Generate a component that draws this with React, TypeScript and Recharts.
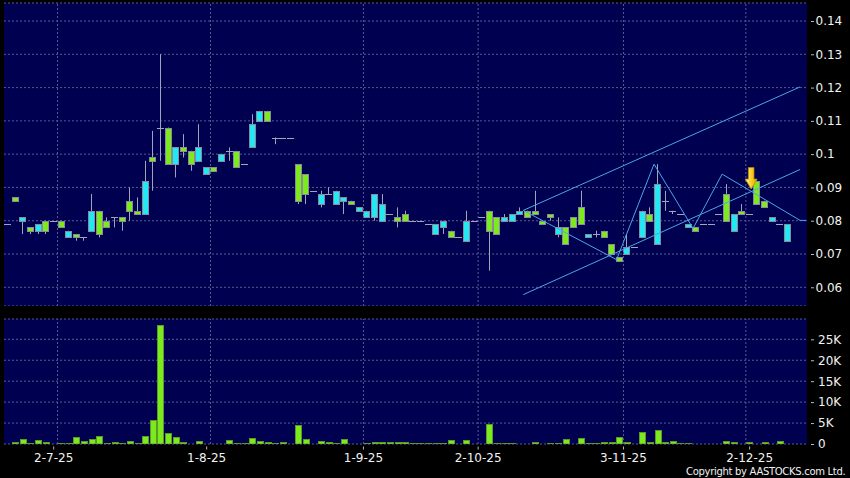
import React from 'react';
import { ComposedChart, Bar, XAxis, YAxis, CartesianGrid, ReferenceLine, ReferenceDot } from 'recharts';

// ---- data (index = trading-day slot) ----
const opens = [
  0.079, 0.087, 0.080, 0.078, 0.077, 0.080, 0.080, 0.080, 0.075, 0.076,
  0.075, 0.077, 0.083, 0.080, 0.081, 0.081, 0.086, 0.083, 0.082, 0.099,
  0.108, 0.108, 0.097, 0.102, 0.101, 0.098, 0.094, 0.096, 0.098, 0.101,
  0.101, 0.097, 0.102, 0.110, 0.113, 0.105, 0.105, 0.105, 0.097, 0.094,
  0.089, 0.085, 0.088, 0.085, 0.086, 0.086, 0.083, 0.081, 0.081, 0.080,
  0.082, 0.081, 0.082, 0.080, 0.080, 0.079, 0.076, 0.078, 0.077, 0.075,
  0.074, 0.080, 0.081, 0.083, 0.081, 0.080, 0.080, 0.082, 0.083, 0.083,
  0.080, 0.082, 0.076, 0.078, 0.081, 0.084, 0.075, 0.076, 0.077, 0.073,
  0.069, 0.070, 0.072, 0.075, 0.082, 0.073, 0.086, 0.083, 0.082, 0.078,
  0.078, 0.079, 0.079, 0.082, 0.088, 0.077, 0.083, 0.082, 0.092, 0.086,
  0.080, 0.079, 0.074,
];
const highs = [
  0.079, 0.087, 0.081, 0.078, 0.079, 0.080, 0.080, 0.080, 0.077, 0.076,
  0.075, 0.088, 0.083, 0.081, 0.081, 0.081, 0.090, 0.087, 0.098, 0.107,
  0.130, 0.108, 0.102, 0.106, 0.101, 0.109, 0.096, 0.096, 0.100, 0.102,
  0.101, 0.097, 0.112, 0.113, 0.113, 0.105, 0.105, 0.105, 0.097, 0.094,
  0.089, 0.089, 0.090, 0.089, 0.087, 0.086, 0.084, 0.083, 0.088, 0.088,
  0.082, 0.084, 0.083, 0.080, 0.080, 0.079, 0.079, 0.080, 0.077, 0.075,
  0.083, 0.080, 0.081, 0.083, 0.081, 0.082, 0.082, 0.084, 0.083, 0.089,
  0.080, 0.082, 0.081, 0.078, 0.081, 0.089, 0.076, 0.077, 0.077, 0.073,
  0.069, 0.076, 0.072, 0.083, 0.084, 0.097, 0.089, 0.083, 0.082, 0.079,
  0.078, 0.079, 0.079, 0.082, 0.091, 0.082, 0.085, 0.082, 0.092, 0.086,
  0.081, 0.079, 0.079,
];
const lows = [
  0.079, 0.086, 0.076, 0.076, 0.076, 0.076, 0.080, 0.078, 0.075, 0.074,
  0.074, 0.077, 0.075, 0.078, 0.078, 0.077, 0.080, 0.082, 0.082, 0.089,
  0.098, 0.097, 0.093, 0.099, 0.095, 0.098, 0.094, 0.095, 0.098, 0.098,
  0.096, 0.097, 0.102, 0.110, 0.110, 0.103, 0.105, 0.105, 0.085, 0.085,
  0.089, 0.084, 0.088, 0.085, 0.082, 0.085, 0.083, 0.081, 0.080, 0.080,
  0.082, 0.078, 0.080, 0.080, 0.080, 0.079, 0.076, 0.076, 0.075, 0.075,
  0.074, 0.080, 0.081, 0.065, 0.076, 0.080, 0.080, 0.082, 0.081, 0.082,
  0.079, 0.080, 0.075, 0.073, 0.078, 0.079, 0.075, 0.075, 0.075, 0.070,
  0.068, 0.070, 0.072, 0.075, 0.080, 0.073, 0.083, 0.082, 0.082, 0.078,
  0.077, 0.079, 0.079, 0.082, 0.080, 0.077, 0.082, 0.082, 0.085, 0.084,
  0.080, 0.079, 0.074,
];
const closes = [
  0.079, 0.086, 0.081, 0.077, 0.079, 0.077, 0.080, 0.078, 0.077, 0.075,
  0.075, 0.083, 0.076, 0.078, 0.081, 0.080, 0.083, 0.082, 0.092, 0.098,
  0.108, 0.097, 0.102, 0.101, 0.097, 0.102, 0.096, 0.095, 0.100, 0.101,
  0.096, 0.097, 0.109, 0.113, 0.110, 0.105, 0.105, 0.105, 0.086, 0.088,
  0.089, 0.088, 0.088, 0.089, 0.087, 0.085, 0.084, 0.083, 0.088, 0.085,
  0.082, 0.080, 0.080, 0.080, 0.080, 0.079, 0.079, 0.080, 0.075, 0.075,
  0.080, 0.080, 0.081, 0.077, 0.076, 0.081, 0.082, 0.083, 0.081, 0.082,
  0.079, 0.081, 0.078, 0.073, 0.078, 0.079, 0.076, 0.076, 0.075, 0.070,
  0.068, 0.072, 0.072, 0.083, 0.080, 0.091, 0.086, 0.083, 0.082, 0.079,
  0.077, 0.079, 0.079, 0.082, 0.080, 0.082, 0.082, 0.082, 0.085, 0.084,
  0.081, 0.079, 0.079,
];
const volumes = [
  0, 560, 1275, 320, 1036, 400, 0, 320, 320, 1750,
  720, 1200, 2000, 320, 480, 240, 800, 320, 2000, 5800,
  28300, 2630, 1600, 480, 0, 800, 0, 0, 0, 1040,
  150, 320, 1500, 720, 480, 320, 480, 0, 4460, 1275,
  0, 640, 480, 150, 1275, 0, 0, 240, 480, 480,
  480, 480, 480, 320, 120, 120, 120, 160, 1036, 0,
  960, 0, 0, 4860, 320, 240, 240, 0, 0, 480,
  0, 240, 160, 1115, 0, 1515, 160, 240, 480, 480,
  1750, 560, 0, 2900, 450, 3400, 550, 620, 350, 120,
  100, 100, 100, 100, 600, 400, 100, 520, 100, 480,
  100, 620, 100, 0, 0,
];

const priceTicks = [0.06, 0.07, 0.08, 0.09, 0.1, 0.11, 0.12, 0.13, 0.14];
const volumeTicks = [0, 5000, 10000, 15000, 20000, 25000];
const gridSlots = [6.5, 26.5, 46.5, 61.5, 80.5, 96.5];
const dateSlots = [6, 26, 46.5, 61.5, 80.5, 97];
const dateLabels = ['2-7-25', '1-8-25', '1-9-25', '2-10-25', '3-11-25', '2-12-25'];

const upperChannel = [{ i: 67.4, p: 0.0831 }, { i: 103.6, p: 0.1202 }];
const lowerChannel = [{ i: 67.4, p: 0.0578 }, { i: 103.6, p: 0.0954 }];
const zigzag = [
  { i: 67.4, p: 0.0831 }, { i: 79.6, p: 0.0683 }, { i: 84.5, p: 0.097 },
  { i: 89.6, p: 0.0777 }, { i: 93.4, p: 0.094 }, { i: 103.6, p: 0.0801 },
  { i: 104.45, p: 0.0801 },
];
const signalArrow = { i: 97.2, p: 0.0895 };

const priceData = opens.map((o, i) => ({ i, o, h: highs[i], l: lows[i], c: closes[i] }));
const volumeData = volumes.map((v, i) => ({ i, v }));

// ---- styles ----
const BG = '#000050';
const GRID = '#5a5a92';
const LINE = '#4aa6e6';
const GREEN = '#7dea1e';
const CYAN = '#22e8f4';
const WICK = '#a4a4b8';
const OUTLINE = '#8a8a9c';
const TEXT = '#f2f2f2';
const FONT = 'DejaVu Sans, Verdana, sans-serif';
const EPS = 0.00002;
const X_DOMAIN: [number, number] = [-0.5, 104.5];

function Candle(props: any) {
  const { x, y, width, height, payload } = props;
  if (!payload || x == null || y == null || payload.h == null) return null;
  const hi = payload.h + EPS;
  const lo = payload.l - EPS;
  const top = Math.min(y, y + height);
  const bot = Math.max(y, y + height);
  const k = (bot - top) / (hi - lo);
  const py = (p: number) => top + (hi - p) * k;
  const cx = x + width / 2;
  const bx = Math.round(cx - 3.5);
  const wx = bx + 3.5;
  const { o, c, h, l } = payload;
  const elems: any[] = [];
  if (h > l) {
    elems.push(<line key="w" x1={wx} x2={wx} y1={py(h)} y2={py(l)} stroke={WICK} strokeWidth={1} />);
  }
  if (o === c) {
    const yy = Math.round(py(c)) + 0.5;
    elems.push(<line key="d" x1={bx} x2={bx + 7} y1={yy} y2={yy} stroke={WICK} strokeWidth={1} />);
  } else {
    const ty = Math.round(py(Math.max(o, c))) + 0.5;
    const by = Math.round(py(Math.min(o, c))) + 0.5;
    elems.push(
      <rect key="b" x={bx + 0.5} y={ty} width={6} height={Math.max(by - ty, 1)}
        fill={c > o ? CYAN : GREEN} stroke={OUTLINE} strokeWidth={1} />
    );
  }
  return <g>{elems}</g>;
}

function VolBar(props: any) {
  const { x, y, width, height } = props;
  if (!height || height <= 0) return null;
  const cx = x + width / 2;
  const bx = Math.round(cx - 3.5);
  return <rect x={bx + 0.5} y={Math.round(y) + 0.5} width={6} height={Math.max(Math.round(height) - 0.5, 0.5)}
    fill={GREEN} stroke="#5b9a2a" strokeWidth={1} />;
}

function PriceTick(props: any) {
  const { x, y, payload } = props;
  const label = String(Number(Number(payload.value).toFixed(2)));
  return (
    <g>
      <line x1={x + 4} x2={x + 7} y1={y + 0.5} y2={y + 0.5} stroke="#b8b8c8" />
      <text x={x + 8.5} y={y} dy="0.36em" fill={TEXT} fontSize={12} fontFamily={FONT} textAnchor="start">{label}</text>
    </g>
  );
}

function VolTick(props: any) {
  const { x, y, payload } = props;
  const v = Number(payload.value);
  const label = v === 0 ? '0' : `${v / 1000}K`;
  return (
    <g>
      <line x1={x + 4} x2={x + 7} y1={y + 0.5} y2={y + 0.5} stroke="#b8b8c8" />
      <text x={x + 11} y={y} dy="0.36em" fill={TEXT} fontSize={12} fontFamily={FONT} textAnchor="start">{label}</text>
    </g>
  );
}

function DateTick(props: any) {
  const { x, y, payload } = props;
  const idx = dateSlots.indexOf(Number(payload.value));
  const label = idx >= 0 ? dateLabels[idx] : '';
  return (
    <g>
      <line x1={x} x2={x} y1={y + 2.5} y2={y + 5.5} stroke="#b8b8c8" />
      <text x={x} y={y + 17.7} fill={TEXT} fontSize={12} fontFamily={FONT} textAnchor="middle">{label}</text>
    </g>
  );
}

function Arrow(props: any) {
  const { cx, cy } = props;
  if (cx == null || cy == null) return null;
  const pts = [
    [cx - 2.8, cy - 21.5], [cx + 2.8, cy - 21.5], [cx + 2.8, cy - 10], [cx + 6, cy - 10],
    [cx, cy], [cx - 6, cy - 10], [cx - 2.8, cy - 10],
  ].map((p) => p.join(',')).join(' ');
  return (
    <g>
      <defs>
        <linearGradient id="arrowGrad" x1="0" y1="0" x2="1" y2="0">
          <stop offset="0%" stopColor="#fff0a0" />
          <stop offset="50%" stopColor="#f9cf2a" />
          <stop offset="100%" stopColor="#dfa000" />
        </linearGradient>
      </defs>
      <polygon points={pts} fill="url(#arrowGrad)" stroke="#c98a00" strokeWidth={0.7} />
    </g>
  );
}

const seg = (a: { i: number; p: number }, b: { i: number; p: number }) => [
  { x: a.i, y: a.p },
  { x: b.i, y: b.p },
];

export default function App() {
  return (
    <div style={{ position: 'absolute', left: 0, top: 0, width: 850, height: 478, background: '#000', overflow: 'hidden', fontFamily: FONT }}>
      <div style={{ position: 'absolute', left: 0, top: 0 }}>
        <ComposedChart width={850} height={306} data={priceData} margin={{ top: 3, right: 0, bottom: 0, left: 4 }}>
          <CartesianGrid vertical={false} stroke={GRID} strokeDasharray="2 2" fill={BG} fillOpacity={1} />
          <XAxis dataKey="i" type="number" domain={X_DOMAIN} hide allowDataOverflow />
          <YAxis orientation="right" width={43} domain={[0.05438, 0.14541]} ticks={priceTicks} interval={0}
            allowDataOverflow tickSize={0} tickMargin={0} axisLine={false} tickLine={false} tick={<PriceTick />} />
          {gridSlots.map((g) => (
            <ReferenceLine key={`g${g}`} x={g} stroke={GRID} strokeDasharray="2 2" />
          ))}
          <Bar dataKey={(d: any) => [d.l - EPS, d.h + EPS]} barSize={7} shape={<Candle />} isAnimationActive={false} />
          <ReferenceLine segment={seg(upperChannel[0], upperChannel[1])} stroke={LINE} strokeWidth={1} />
          <ReferenceLine segment={seg(lowerChannel[0], lowerChannel[1])} stroke={LINE} strokeWidth={1} />
          {zigzag.slice(1).map((pt, k) => (
            <ReferenceLine key={`z${k}`} segment={seg(zigzag[k], pt)} stroke={LINE} strokeWidth={1} />
          ))}
          <ReferenceDot x={signalArrow.i} y={signalArrow.p} shape={<Arrow />} />
        </ComposedChart>
      </div>
      <div style={{ position: 'absolute', left: 0, top: 306 }}>
        <ComposedChart width={850} height={172} data={volumeData} margin={{ top: 13, right: 0, bottom: 0, left: 4 }}>
          <CartesianGrid vertical={false} stroke={GRID} strokeDasharray="2 2" fill={BG} fillOpacity={1} />
          <XAxis dataKey="i" type="number" domain={X_DOMAIN} ticks={dateSlots} interval={0} height={34}
            allowDataOverflow tickSize={0} tickMargin={0} axisLine={false} tickLine={false} tick={<DateTick />} />
          <YAxis orientation="right" width={43} domain={[0, 29850]} ticks={volumeTicks} interval={0}
            allowDataOverflow tickSize={0} tickMargin={0} axisLine={false} tickLine={false} tick={<VolTick />} />
          {gridSlots.map((g) => (
            <ReferenceLine key={`vg${g}`} x={g} stroke={GRID} strokeDasharray="2 2" />
          ))}
          <Bar dataKey="v" barSize={6} shape={<VolBar />} isAnimationActive={false} />
        </ComposedChart>
      </div>
      <div style={{ position: 'absolute', left: 686, top: 466, fontSize: 10, lineHeight: '12px', color: TEXT, letterSpacing: '-0.3px', whiteSpace: 'nowrap', fontFamily: FONT }}>
        Copyright by AASTOCKS.com Ltd.
      </div>
    </div>
  );
}
